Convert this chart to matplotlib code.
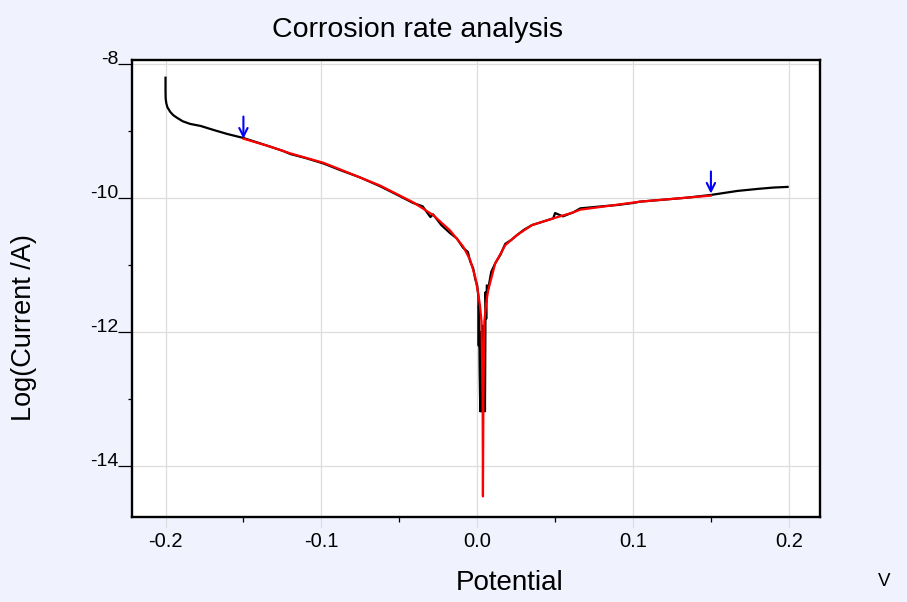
import matplotlib
matplotlib.use("Agg")
import matplotlib.pyplot as plt
from matplotlib.ticker import FixedLocator

# Measured polarisation data (potential in V, log10 of current in A)
meas_potential = [-0.2000, -0.2000, -0.1999, -0.1995, -0.1988, -0.1970, -0.1950, -0.1925,
                  -0.1890, -0.1842, -0.1775, -0.1692,
                  -0.1604, -0.1500, -0.1420, -0.1327, -0.1250, -0.1198, -0.1100, -0.0987,
                  -0.0878, -0.0750, -0.0623, -0.0520, -0.0411, -0.0350, -0.0300, -0.0283,
                  -0.0230, -0.0174, -0.0130, -0.0090, -0.0060, -0.0045, -0.0025, -0.0013,
                  0.0000, 0.0008, 0.0010, 0.0012, 0.0016, 0.0020, 0.0024, 0.0028, 0.0034,
                  0.0040, 0.0046, 0.0050, 0.0054, 0.0058, 0.0062, 0.0071, 0.0090, 0.0116,
                  0.0150, 0.0180, 0.0220, 0.0255, 0.0300, 0.0352, 0.0420, 0.0488, 0.0500,
                  0.0550, 0.0617, 0.0662, 0.0800, 0.0900, 0.1000, 0.1046, 0.1200, 0.1350,
                  0.1500, 0.1671, 0.1800, 0.1900, 0.1992]
meas_logi = [-8.20, -8.40, -8.51, -8.58, -8.64, -8.71, -8.76, -8.80,
             -8.85, -8.89, -8.92, -8.98,
             -9.04, -9.10, -9.16, -9.23, -9.29, -9.34, -9.40, -9.48,
             -9.58, -9.69, -9.82, -9.94, -10.07, -10.12, -10.28, -10.24,
             -10.40, -10.52, -10.60, -10.74, -10.80, -10.94, -11.05, -11.20,
             -11.30, -11.47, -12.20, -11.60, -12.60, -13.18, -12.00, -13.18, -11.90,
             -13.18, -12.20, -13.18, -11.40, -11.80, -11.30, -11.35, -11.10, -10.97,
             -10.84, -10.68, -10.62, -10.55, -10.47, -10.40, -10.35, -10.30, -10.22,
             -10.27, -10.21, -10.15, -10.12, -10.10, -10.07, -10.05, -10.02, -9.99,
             -9.95, -9.89, -9.86, -9.84, -9.83]

# Tafel fit curve
fit_potential = [-0.1500, -0.1327, -0.1198, -0.0987, -0.0878, -0.0623, -0.0411, -0.0283,
                 -0.0174, -0.0090, -0.0045, -0.0013, 0.0005, 0.0018, 0.0028, 0.0035,
                 0.0037, 0.0040, 0.0046, 0.0058, 0.0071, 0.0116, 0.0180, 0.0255,
                 0.0352, 0.0488, 0.0617, 0.0662, 0.1046, 0.1500]
fit_logi = [-9.11, -9.23, -9.33, -9.47, -9.57, -9.81, -10.06, -10.25,
            -10.48, -10.72, -10.92, -11.17, -11.40, -11.60, -11.84, -13.00,
            -14.45, -13.00, -11.84, -11.56, -11.37, -10.97, -10.70, -10.55,
            -10.40, -10.30, -10.21, -10.17, -10.05, -9.96]

# Fit range markers (arrows)
marker_x = [-0.15, 0.15]
marker_y = [-9.11, -9.93]
arrow_len = 0.33

x_major = [-0.2, -0.1, 0.0, 0.1, 0.2]
x_labels = ["-0.2", "-0.1", "0.0", "0.1", "0.2"]
y_major = [-8, -10, -12, -14]
y_labels = ["-8", "-10", "-12", "-14"]

bg = "#F0F2FE"
plt.rcParams['font.family'] = ['Liberation Sans', 'DejaVu Sans']

fig = plt.figure(figsize=(9.07, 6.02), dpi=100, facecolor=bg)
ax = fig.add_axes([132/907, 1-517/602, (820-132)/907, (517-60)/602])
ax.set_facecolor("white")

ax.set_xlim(-0.2215, 0.2200)
ax.set_ylim(-14.757, -7.936)

ax.set_xticks(x_major)
ax.set_xticklabels(x_labels)
ax.set_yticks(y_major)
ax.set_yticklabels(y_labels)
ax.xaxis.set_minor_locator(FixedLocator([-0.15, -0.05, 0.05, 0.15]))
ax.yaxis.set_minor_locator(FixedLocator([-9, -11, -13]))

ax.grid(True, which='major', color='#DDDDDD', linewidth=0.9, zorder=0)
ax.set_axisbelow(True)

ax.tick_params(axis='x', which='major', direction='out', length=7, width=0.9,
               color='#DDDDDD', pad=4, labelsize=14.5)
ax.tick_params(axis='x', which='minor', direction='out', length=3.6, width=0.9,
               color='black')
ax.tick_params(axis='y', which='major', direction='out', length=10, width=0.9,
               color='black', pad=0, labelsize=14)
ax.tick_params(axis='y', which='minor', direction='out', length=3, width=0.9,
               color='black')
for lab in ax.get_yticklabels():
    lab.set_verticalalignment('baseline')

for sp in ax.spines.values():
    sp.set_linewidth(1.7)
    sp.set_color('black')

ax.plot(meas_potential, meas_logi, color='black', linewidth=1.6, zorder=3)
ax.plot(fit_potential, fit_logi, color='#FF0000', linewidth=1.6, zorder=4)

for mx, my in zip(marker_x, marker_y):
    ax.annotate("", xy=(mx, my), xytext=(mx, my + arrow_len),
                arrowprops=dict(arrowstyle='->', color='#0000FF', lw=1.5,
                                mutation_scale=15, shrinkA=0, shrinkB=0),
                zorder=5)

fig.text(417/907, 1-30/602, "Corrosion rate analysis", fontsize=20.5,
         ha='center', va='center')
fig.text(24/907, 1-328/602, "Log(Current /A)", fontsize=19.5, rotation=90,
         ha='center', va='center')
fig.text(510/907, 1-583/602, "Potential", fontsize=20, ha='center', va='center')
fig.text(884/907, 1-582/602, "V", fontsize=13.5, ha='center', va='center')

fig.savefig("out.png", dpi=100, facecolor=bg)
